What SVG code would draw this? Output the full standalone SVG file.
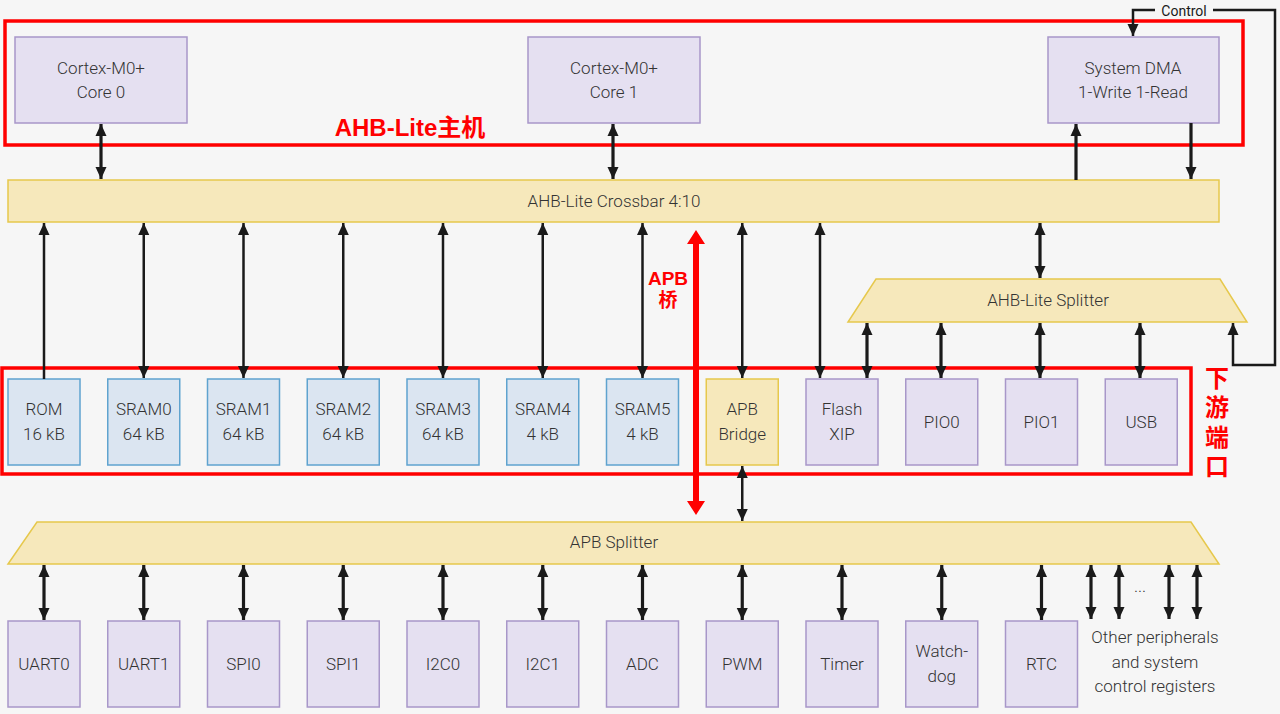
<svg xmlns="http://www.w3.org/2000/svg" width="1280" height="714" viewBox="0 0 1280 714">
<defs>
<marker id="ah" markerUnits="userSpaceOnUse" markerWidth="12" markerHeight="12" refX="12" refY="5.5" orient="auto-start-reverse" viewBox="0 0 12 11">
<path d="M0,0 L12,5.5 L0,11 z" fill="#1a1a1a"/>
</marker>
</defs>
<style>
.bg{fill:#f6f6f6}
.pur{fill:#e5e0f1;stroke:#a897c9;stroke-width:1.5}
.blu{fill:#dbe5f1;stroke:#5fa3cf;stroke-width:1.5}
.yel{fill:#f6e8bb;stroke:#e6c84c;stroke-width:1.5}
.red{fill:none;stroke:#ff0000;stroke-width:3.5}
.t{font-family:Roboto,"Liberation Sans",sans-serif;font-weight:300;font-size:17px;fill:#333333;text-anchor:middle}
.rt{font-family:"Liberation Sans","Noto Sans CJK SC",sans-serif;font-weight:bold;fill:#ff0000;text-anchor:middle}
.a{stroke:#1a1a1a;stroke-width:2.5;fill:none;marker-end:url(#ah)}
.d{stroke:#1a1a1a;stroke-width:2.5;fill:none;marker-start:url(#ah);marker-end:url(#ah)}
.s{stroke-width:3.2}
</style>
<rect class="bg" x="0" y="0" width="1280" height="714"/>

<!-- red highlight frames -->
<g id="highlights">
<rect class="red" x="5" y="21" width="1238" height="124"/>
<rect class="red" x="2" y="368" width="1189" height="106"/>
<text class="rt" x="410" y="136" font-size="24">AHB-Lite主机</text>
<text class="rt" x="668" y="285" font-size="19">APB</text>
<text class="rt" x="668" y="307" font-size="19">桥</text>
<text class="rt" x="1217" y="387" font-size="24">下</text>
<text class="rt" x="1217" y="416" font-size="24">游</text>
<text class="rt" x="1217" y="446" font-size="24">端</text>
<text class="rt" x="1217" y="475" font-size="24">口</text>
<path d="M696,230 L705,244 L699,244 L699,501 L705,501 L696,515 L687,501 L693,501 L693,244 L687,244 z" fill="#ff0000"/>
</g>

<!-- masters -->
<g id="core0"><rect class="pur" x="15" y="37" width="172" height="86"/><text class="t" x="101" y="74">Cortex-M0+</text><text class="t" x="101" y="98">Core 0</text></g>
<g id="core1"><rect class="pur" x="528" y="37" width="172" height="86"/><text class="t" x="614" y="74">Cortex-M0+</text><text class="t" x="614" y="98">Core 1</text></g>
<g id="dma"><rect class="pur" x="1048" y="37" width="171" height="86"/><text class="t" x="1133" y="74">System DMA</text><text class="t" x="1133" y="98">1-Write 1-Read</text></g>

<!-- crossbar -->
<g id="crossbar"><rect class="yel" x="8" y="180" width="1211" height="42"/><text class="t" x="614" y="207">AHB-Lite Crossbar 4:10</text></g>

<!-- AHB-Lite splitter -->
<g id="ahb-splitter"><polygon class="yel" points="876,279 1220,279 1247,322 848,322"/><text class="t" x="1048" y="306">AHB-Lite Splitter</text></g>

<!-- slave row -->
<g id="rom"><rect class="blu" x="8" y="379" width="72" height="86"/><text class="t" x="44" y="415">ROM</text><text class="t" x="44" y="440">16 kB</text></g>
<g id="sram0"><rect class="blu" x="107.75" y="379" width="72" height="86"/><text class="t" x="143.75" y="415">SRAM0</text><text class="t" x="143.75" y="440">64 kB</text></g>
<g id="sram1"><rect class="blu" x="207.5" y="379" width="72" height="86"/><text class="t" x="243.5" y="415">SRAM1</text><text class="t" x="243.5" y="440">64 kB</text></g>
<g id="sram2"><rect class="blu" x="307.25" y="379" width="72" height="86"/><text class="t" x="343.25" y="415">SRAM2</text><text class="t" x="343.25" y="440">64 kB</text></g>
<g id="sram3"><rect class="blu" x="407" y="379" width="72" height="86"/><text class="t" x="443" y="415">SRAM3</text><text class="t" x="443" y="440">64 kB</text></g>
<g id="sram4"><rect class="blu" x="506.75" y="379" width="72" height="86"/><text class="t" x="542.75" y="415">SRAM4</text><text class="t" x="542.75" y="440">4 kB</text></g>
<g id="sram5"><rect class="blu" x="606.5" y="379" width="72" height="86"/><text class="t" x="642.5" y="415">SRAM5</text><text class="t" x="642.5" y="440">4 kB</text></g>
<g id="apb-bridge"><rect class="yel" x="706.25" y="379" width="72" height="86"/><text class="t" x="742.25" y="415">APB</text><text class="t" x="742.25" y="440">Bridge</text></g>
<g id="flash-xip"><rect class="pur" x="806" y="379" width="72" height="86"/><text class="t" x="842" y="415">Flash</text><text class="t" x="842" y="440">XIP</text></g>
<g id="pio0"><rect class="pur" x="905.75" y="379" width="72" height="86"/><text class="t" x="941.75" y="428">PIO0</text></g>
<g id="pio1"><rect class="pur" x="1005.5" y="379" width="72" height="86"/><text class="t" x="1041.5" y="428">PIO1</text></g>
<g id="usb"><rect class="pur" x="1105.25" y="379" width="72" height="86"/><text class="t" x="1141.25" y="428">USB</text></g>

<!-- APB splitter -->
<g id="apb-splitter"><polygon class="yel" points="37,522 1191,522 1219,564 8,564"/><text class="t" x="614" y="548">APB Splitter</text></g>

<!-- peripherals -->
<g id="uart0"><rect class="pur" x="8" y="621" width="72" height="86"/><text class="t" x="44" y="670">UART0</text></g>
<g id="uart1"><rect class="pur" x="107.75" y="621" width="72" height="86"/><text class="t" x="143.75" y="670">UART1</text></g>
<g id="spi0"><rect class="pur" x="207.5" y="621" width="72" height="86"/><text class="t" x="243.5" y="670">SPI0</text></g>
<g id="spi1"><rect class="pur" x="307.25" y="621" width="72" height="86"/><text class="t" x="343.25" y="670">SPI1</text></g>
<g id="i2c0"><rect class="pur" x="407" y="621" width="72" height="86"/><text class="t" x="443" y="670">I2C0</text></g>
<g id="i2c1"><rect class="pur" x="506.75" y="621" width="72" height="86"/><text class="t" x="542.75" y="670">I2C1</text></g>
<g id="adc"><rect class="pur" x="606.5" y="621" width="72" height="86"/><text class="t" x="642.5" y="670">ADC</text></g>
<g id="pwm"><rect class="pur" x="706.25" y="621" width="72" height="86"/><text class="t" x="742.25" y="670">PWM</text></g>
<g id="timer"><rect class="pur" x="806" y="621" width="72" height="86"/><text class="t" x="842" y="670">Timer</text></g>
<g id="watchdog"><rect class="pur" x="905.75" y="621" width="72" height="86"/><text class="t" x="941.75" y="657">Watch-</text><text class="t" x="941.75" y="682">dog</text></g>
<g id="rtc"><rect class="pur" x="1005.5" y="621" width="72" height="86"/><text class="t" x="1041.5" y="670">RTC</text></g>
<g id="other"><text class="t" x="1155" y="643">Other peripherals</text><text class="t" x="1155" y="668">and system</text><text class="t" x="1155" y="692">control registers</text><text class="t" x="1140" y="592" font-size="13">...</text></g>

<!-- connectors -->
<g id="connectors">
<line class="d s" x1="101" y1="124" x2="101" y2="179"/>
<line class="d s" x1="613" y1="124" x2="613" y2="179"/>
<line class="a s" x1="1076" y1="180" x2="1076" y2="124"/>
<line class="a s" x1="1191" y1="123" x2="1191" y2="179"/>
<path class="d" d="M1133,36 V10 H1155 M1213,10 H1275 V365 H1233 V323"/>
<text x="1184" y="16" font-family="Roboto,'Liberation Sans',sans-serif" font-size="14" fill="#1a1a1a" text-anchor="middle">Control</text>

<line class="a" x1="44" y1="379" x2="44" y2="223"/>
<line class="d" x1="143.75" y1="223" x2="143.75" y2="378"/>
<line class="d" x1="243.5" y1="223" x2="243.5" y2="378"/>
<line class="d" x1="343.25" y1="223" x2="343.25" y2="378"/>
<line class="d" x1="443" y1="223" x2="443" y2="378"/>
<line class="d" x1="542.75" y1="223" x2="542.75" y2="378"/>
<line class="d" x1="642.5" y1="223" x2="642.5" y2="378"/>
<line class="d" x1="742.25" y1="223" x2="742.25" y2="378"/>
<line class="d" x1="820" y1="223" x2="820" y2="378"/>

<line class="d s" x1="1040" y1="223" x2="1040" y2="278"/>
<line class="d s" x1="867" y1="323" x2="867" y2="378"/>
<line class="d s" x1="941" y1="323" x2="941" y2="378"/>
<line class="d s" x1="1040" y1="323" x2="1040" y2="378"/>
<line class="d s" x1="1140" y1="323" x2="1140" y2="378"/>

<line class="d" x1="742.25" y1="466" x2="742.25" y2="521"/>

<line class="d s" x1="44" y1="565" x2="44" y2="620"/>
<line class="d s" x1="143.75" y1="565" x2="143.75" y2="620"/>
<line class="d s" x1="243.5" y1="565" x2="243.5" y2="620"/>
<line class="d s" x1="343.25" y1="565" x2="343.25" y2="620"/>
<line class="d s" x1="443" y1="565" x2="443" y2="620"/>
<line class="d s" x1="542.75" y1="565" x2="542.75" y2="620"/>
<line class="d s" x1="642.5" y1="565" x2="642.5" y2="620"/>
<line class="d s" x1="742.25" y1="565" x2="742.25" y2="620"/>
<line class="d s" x1="842" y1="565" x2="842" y2="620"/>
<line class="d s" x1="941.75" y1="565" x2="941.75" y2="620"/>
<line class="d s" x1="1041.5" y1="565" x2="1041.5" y2="620"/>
<line class="d s" x1="1091" y1="565" x2="1091" y2="619"/>
<line class="d s" x1="1119" y1="565" x2="1119" y2="619"/>
<line class="d s" x1="1169" y1="565" x2="1169" y2="619"/>
<line class="d s" x1="1197" y1="565" x2="1197" y2="619"/>
</g>
</svg>
